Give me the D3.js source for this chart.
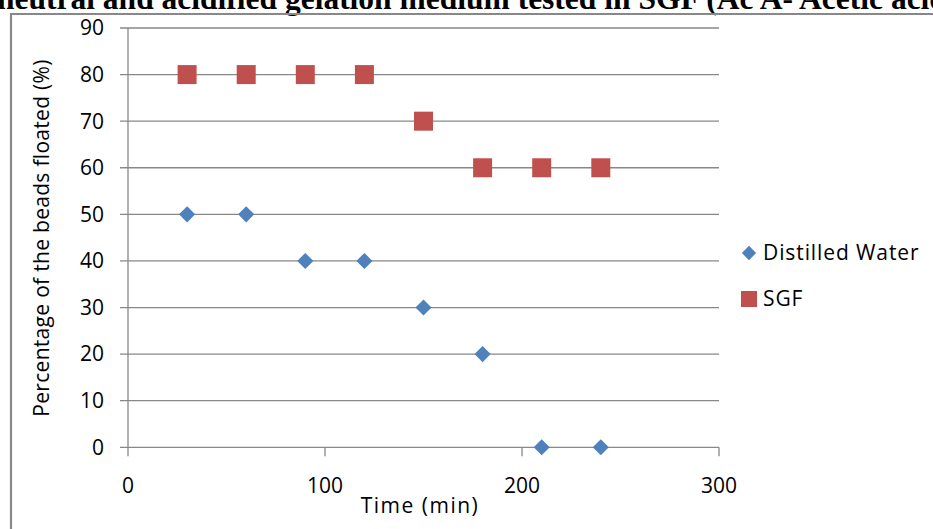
<!DOCTYPE html>
<html lang="en">
<head>
<meta charset="utf-8">
<title>Beads floated</title>
<script src="https://cdn.jsdelivr.net/npm/d3@7"></script>
<style>
  body { margin: 0; background: #fff; }
  svg { display: block; }
</style>
</head>
<body>
<script>
// data
var times = [30, 60, 90, 120, 150, 180, 210, 240];
var water = [50, 50, 40, 40, 30, 20, 0, 0];
var sgf = [80, 80, 80, 80, 70, 60, 60, 60];
var yTicks = [0, 10, 20, 30, 40, 50, 60, 70, 80, 90];
var xTicks = [0, 100, 200, 300];
var seriesNames = ["Distilled Water", "SGF"];

var W = 933, H = 529;
var svg = d3.select("body").append("svg").attr("width", W).attr("height", H);

var font = "'Open Sans', sans-serif";
var fs = 21;

// clipped caption from the page above
svg.append("text")
  .attr("x", -3).attr("y", 9)
  .attr("font-family", "'Liberation Serif', serif")
  .attr("font-weight", "bold")
  .attr("font-size", 31.5)
  .text("neutral and acidified gelation medium tested in SGF (Ac A- Acetic acid)");

// frame
svg.append("path")
  .attr("d", "M11," + H + "V14H" + W)
  .attr("fill", "none").attr("stroke", "#888").attr("stroke-width", 2.2);

var x = d3.scaleLinear().domain([0, 300]).range([128, 719]);
var y = d3.scaleLinear().domain([0, 90]).range([447.3, 28]);

// gridlines
svg.append("g").selectAll("line").data(yTicks).enter().append("line")
  .attr("x1", 120).attr("x2", x(300))
  .attr("y1", function (d) { return y(d); })
  .attr("y2", function (d) { return y(d); })
  .attr("stroke", "#888").attr("stroke-width", 1.3);

// y axis line
svg.append("line")
  .attr("x1", x(0)).attr("x2", x(0)).attr("y1", y(90)).attr("y2", y(0))
  .attr("stroke", "#888").attr("stroke-width", 1.3);

// x tick marks
svg.append("g").selectAll("line").data(xTicks).enter().append("line")
  .attr("x1", function (d) { return x(d); })
  .attr("x2", function (d) { return x(d); })
  .attr("y1", y(0)).attr("y2", y(0) + 9)
  .attr("stroke", "#888").attr("stroke-width", 1.3);

// y tick labels
svg.append("g").selectAll("text").data(yTicks).enter().append("text")
  .attr("x", 104)
  .attr("y", function (d) { return y(d); })
  .attr("dy", "0.35em")
  .attr("text-anchor", "end")
  .attr("font-family", font).attr("font-size", fs)
  .text(function (d) { return d; });

// x tick labels
svg.append("g").selectAll("text").data(xTicks).enter().append("text")
  .attr("x", function (d) { return x(d); })
  .attr("y", 486)
  .attr("dy", "0.35em")
  .attr("text-anchor", "middle")
  .attr("font-family", font).attr("font-size", fs)
  .text(function (d) { return d; });

// axis titles
svg.append("text")
  .attr("x", 420).attr("y", 506).attr("dy", "0.35em")
  .attr("text-anchor", "middle")
  .attr("font-family", font).attr("font-size", fs)
  .attr("letter-spacing", 1.5)
  .text("Time (min)");

svg.append("text")
  .attr("transform", "translate(42,238) rotate(-90)")
  .attr("dy", "0.35em")
  .attr("text-anchor", "middle")
  .attr("font-family", font).attr("font-size", fs)
  .attr("letter-spacing", 0.3)
  .text("Percentage of the beads floated (%)");

var blue = "#4F81BD", red = "#C0504D";
var diamond = d3.symbol().type(d3.symbolDiamond2).size(165);
var square = d3.symbol().type(d3.symbolSquare).size(361);

svg.append("g").selectAll("path").data(times).enter().append("path")
  .attr("d", square)
  .attr("transform", function (d, i) { return "translate(" + x(d) + "," + y(sgf[i]) + ")"; })
  .attr("fill", red);

svg.append("g").selectAll("path").data(times).enter().append("path")
  .attr("d", diamond)
  .attr("transform", function (d, i) { return "translate(" + x(d) + "," + y(water[i]) + ")"; })
  .attr("fill", blue);

// legend
var leg = svg.append("g");
leg.append("path").attr("d", d3.symbol().type(d3.symbolDiamond2).size(130))
  .attr("transform", "translate(749,253)").attr("fill", blue);
leg.append("rect").attr("x", 741).attr("y", 291).attr("width", 16).attr("height", 16).attr("fill", red);
leg.selectAll("text").data(seriesNames).enter().append("text")
  .attr("x", 763)
  .attr("y", function (d, i) { return 253 + i * 46; })
  .attr("dy", "0.35em")
  .attr("font-family", font).attr("font-size", fs)
  .attr("letter-spacing", 0.9)
  .text(function (d) { return d; });
</script>
</body>
</html>
